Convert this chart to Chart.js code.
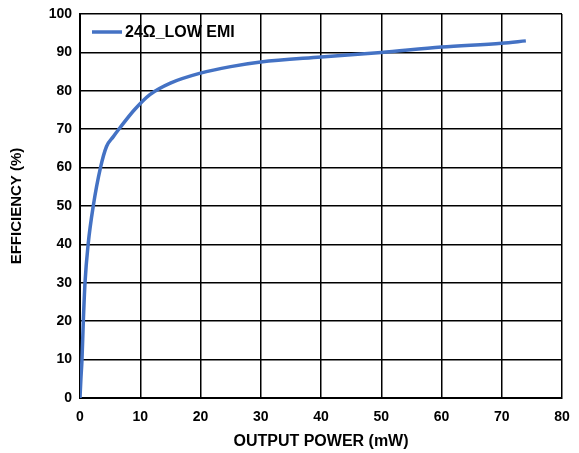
<!DOCTYPE html>
<html>
<head>
<meta charset="utf-8">
<script src="https://cdn.jsdelivr.net/npm/chart.js@4/dist/chart.umd.min.js"></script>
<style>
  html, body { margin: 0; padding: 0; background: #fff; }
  #wrap { width: 579px; height: 453px; }
</style>
</head>
<body>
<div id="wrap"><canvas id="grafico"></canvas></div>
<script>
// output power (mW) and efficiency (%)
const potenza = [0, 0.15, 0.33, 0.55, 0.83, 1.35, 2.2, 3.4, 4.4, 5.5, 6.6, 9, 11.6, 15, 20, 25, 30, 40, 50, 60, 70, 74]
const efficienza = [0, 5, 10, 20, 30, 40, 50, 60, 65.5, 68, 70.3, 75, 79, 82, 84.6, 86.3, 87.5, 88.8, 90, 91.4, 92.4, 93]
const etichettaSerie = '24Ω_LOW EMI'
const xTicks = [0, 10, 20, 30, 40, 50, 60, 70, 80]
const yTicks = [0, 10, 20, 30, 40, 50, 60, 70, 80, 90, 100]

const font = 'Liberation Sans, Arial, sans-serif'
const blu = '#4472C4'

// legend drawn inside the plot, top left
const legendaInterna = {
    id: 'legendaInterna',
    afterDraw(chart) {
        const ctx = chart.ctx
        const area = chart.chartArea
        const y = area.top + 18
        ctx.save()
        ctx.strokeStyle = blu
        ctx.lineWidth = 3.5
        ctx.beginPath()
        ctx.moveTo(area.left + 12, y)
        ctx.lineTo(area.left + 42, y)
        ctx.stroke()
        ctx.fillStyle = '#000'
        ctx.font = 'bold 16px ' + font
        ctx.textBaseline = 'middle'
        ctx.fillText(chart.data.datasets[0].label, area.left + 45, y + 1)
        ctx.restore()
    }
}

const punti = potenza.map((p, i) => ({ x: p, y: efficienza[i] }))

new Chart(document.getElementById('grafico'), {
    type: 'scatter',
    data: {
        datasets: [{
            label: etichettaSerie,
            data: punti,
            showLine: true,
            borderColor: blu,
            borderWidth: 3.5,
            pointRadius: 0,
            cubicInterpolationMode: 'monotone'
        }]
    },
    options: {
        responsive: true,
        maintainAspectRatio: false,
        animation: false,
        layout: { padding: 0 },
        plugins: {
            legend: { display: false },
            tooltip: { enabled: false }
        },
        scales: {
            x: {
                type: 'linear',
                min: 0,
                max: 80,
                afterBuildTicks: (scale) => { scale.ticks = xTicks.map(v => ({ value: v })) },
                afterFit: (scale) => {
                    scale.height = 55
                    scale.paddingLeft = 0
                    scale.paddingRight = 17
                },
                grid: { color: '#000', lineWidth: 1.5, drawTicks: false },
                border: { color: '#000', width: 2 },
                ticks: { color: '#000', font: { family: font, size: 14, weight: 'bold' }, padding: 11 },
                title: {
                    display: true,
                    text: 'OUTPUT POWER (mW)',
                    color: '#000',
                    font: { family: font, size: 16, weight: 'bold' },
                    padding: { top: 0, bottom: 2 }
                }
            },
            y: {
                min: 0,
                max: 100,
                afterBuildTicks: (scale) => { scale.ticks = yTicks.map(v => ({ value: v })) },
                afterFit: (scale) => {
                    scale.width = 80
                    scale.paddingTop = 14
                    scale.paddingBottom = 0
                },
                grid: { color: '#000', lineWidth: 1.5, drawTicks: false },
                border: { color: '#000', width: 2 },
                ticks: { color: '#000', font: { family: font, size: 14, weight: 'bold' }, padding: 8 },
                title: {
                    display: true,
                    text: 'EFFICIENCY (%)',
                    color: '#000',
                    font: { family: font, size: 15, weight: 'bold' },
                    padding: { top: 8, bottom: 0 }
                }
            }
        }
    },
    plugins: [legendaInterna]
})
</script>
</body>
</html>
